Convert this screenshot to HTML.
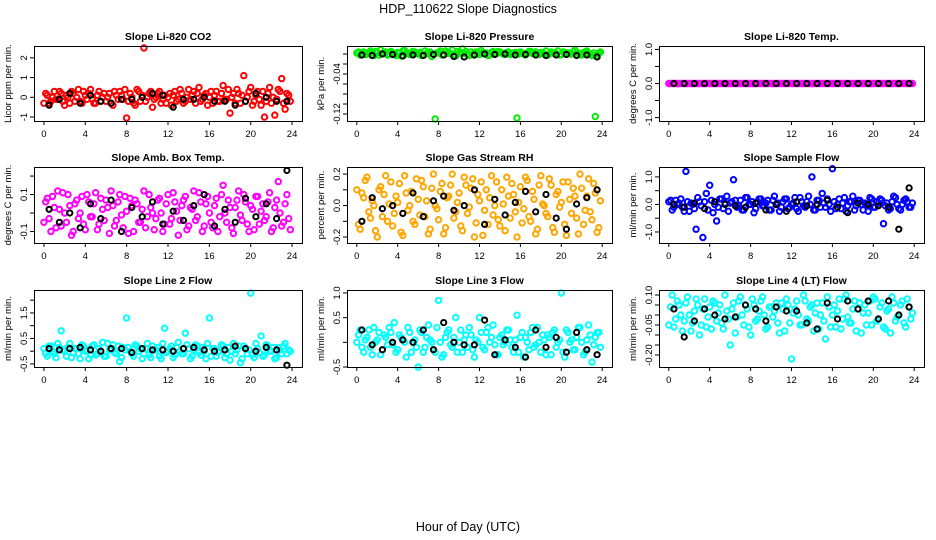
<!DOCTYPE html>
<html><head><meta charset="utf-8">
<style>
html,body{margin:0;padding:0;background:#fff;}
svg{display:block;font-family:"Liberation Sans",Arial,sans-serif;}
</style></head>
<body>
<svg id="chart" width="936" height="540" viewBox="0 0 936 540" xmlns="http://www.w3.org/2000/svg">
<rect width="936" height="540" fill="#fff"/>
<text x="468" y="13" font-size="12.5" text-anchor="middle">HDP_110622  Slope Diagnostics</text>
<text x="468" y="531" font-size="12.5" text-anchor="middle">Hour of Day (UTC)</text>
</svg>
<script>
const xTicks = [0,4,8,12,16,20,24];
const hoursColor = [0,0.33,0.67,1,1.33,1.67,2,2.33,2.67,3,3.33,3.67,4,4.33,4.67,5,5.33,5.67,6,6.33,6.67,7,7.33,7.67,8,8.33,8.67,9,9.33,9.67,10,10.33,10.67,11,11.33,11.67,12,12.33,12.67,13,13.33,13.67,14,14.33,14.67,15,15.33,15.67,16,16.33,16.67,17,17.33,17.67,18,18.33,18.67,19,19.33,19.67,20,20.33,20.67,21,21.33,21.67,22,22.33,22.67,23,23.33,23.67];
const hoursColor2 = [0.17,0.5,0.83,1.17,1.5,1.83,2.17,2.5,2.83,3.17,3.5,3.83,4.17,4.5,4.83,5.17,5.5,5.83,6.17,6.5,6.83,7.17,7.5,7.83,8.17,8.5,8.83,9.17,9.5,9.83,10.17,10.5,10.83,11.17,11.5,11.83,12.17,12.5,12.83,13.17,13.5,13.83,14.17,14.5,14.83,15.17,15.5,15.83,16.17,16.5,16.83,17.17,17.5,17.83,18.17,18.5,18.83,19.17,19.5,19.83,20.17,20.5,20.83,21.17,21.5,21.83,22.17,22.5,22.83,23.17,23.5,23.83];
const hoursBlack = [0.5,1.5,2.5,3.5,4.5,5.5,6.5,7.5,8.5,9.5,10.5,11.5,12.5,13.5,14.5,15.5,16.5,17.5,18.5,19.5,20.5,21.5,22.5,23.5];

const co2Color = [-0.3,0.1,-0.2,0.3,-0.1,0.2,-0.4,0.0,0.3,-0.2,0.4,-0.3,0.1,0.2,-0.1,-0.3,0.3,0.0,-0.2,0.2,-0.4,0.1,0.3,-0.1,-1.05,0.2,-0.3,0.4,-0.2,2.5,0.0,0.3,-0.1,0.2,-0.3,0.1,0.0,-0.4,0.3,-0.1,0.2,-0.2,0.4,0.1,-0.3,0.5,-0.1,0.2,0.0,-0.3,0.3,-0.2,0.6,-0.1,-0.8,0.2,0.4,-0.3,1.1,0.0,0.5,-0.2,0.3,-0.4,-1.0,0.2,-0.3,-0.9,0.4,0.95,-0.6,0.1];
const co2Color2 = [0.2,-0.3,0.0,-0.1,0.3,-0.2,0.1,-0.3,0.2,0.0,-0.2,0.3,-0.1,0.4,-0.3,0.1,-0.2,0.2,0.0,-0.3,0.3,-0.1,0.1,0.4,-0.2,0.0,-0.4,0.3,0.1,-0.2,0.2,-0.5,0.0,0.3,-0.1,-0.3,0.2,0.1,-0.2,0.4,-0.3,0.0,-0.1,0.3,0.2,-0.2,0.1,-0.4,0.3,0.1,-0.2,0.2,-0.1,0.4,0.0,-0.3,0.2,0.1,-0.2,0.3,-0.4,0.1,-0.1,0.3,-0.2,0.5,0.0,-0.1,0.3,-0.3,0.2,-0.2];
const co2Black = [-0.4,-0.1,0.2,-0.3,0.1,-0.2,-0.3,-0.1,-0.1,0.0,0.2,0.1,-0.5,-0.1,-0.1,0.0,-0.2,-0.2,-0.4,-0.2,0.2,0.0,-0.2,-0.2];
const presColor = [0.002,-0.002,0.004,0,0.006,-0.003,0.003,0.008,0.001,-0.002,0.005,0,0.003,-0.004,0.007,0.002,-0.001,0.004,0,-0.003,0.006,0.001,-0.005,-0.13,0.003,-0.002,0.006,0.001,0.008,-0.004,0.002,0.01,0.005,-0.003,0,0.004,-0.001,0.003,0.002,-0.002,0.005,0.001,0.004,0,0.003,-0.001,0.002,-0.128,0.004,0,0.002,0.005,0.001,-0.001,0.003,0,-0.002,0.004,0.001,0.006,-0.001,0.003,0.002,0,0.008,0.002,-0.002,0.004,0.001,-0.003,-0.125,0.002];
const presColor2 = [0.004,0.001,-0.001,0.003,0.002,0.005,-0.002,0.001,0.004,0,0.003,-0.003,0.002,0.006,0.001,-0.001,0.005,0.002,0.003,-0.002,0.001,0.004,0,0.002,0.006,-0.001,0.003,0.001,-0.002,0.005,0.003,0.001,0,0.004,-0.002,0.002,0.007,0.001,-0.003,0.003,0,0.005,0.002,-0.001,0.004,0.001,0.003,0,0.002,-0.002,0.005,0.001,0.004,-0.001,0.002,0.006,0,0.003,0.001,-0.002,0.004,0.002,0,0.005,0.001,-0.001,0.003,0.006,0,0.002,-0.001,0.004];
const presBlack = [-0.002,-0.003,0,-0.001,-0.004,-0.002,-0.003,-0.001,-0.002,-0.005,-0.006,-0.002,0,-0.001,0,-0.002,-0.001,-0.002,-0.003,-0.002,-0.001,-0.003,-0.002,-0.006];
const tempColor = [0,0,0,0,0,0,0,0,0,0,0,0,0,0,0,0,0,0,0,0,0,0,0,0,0,0,0,0,0,0,0,0,0,0,0,0,0,0,0,0,0,0,0,0,0,0,0,0,0,0,0,0,0,0,0,0,0,0,0,0,0,0,0,0,0,0,0,0,0,0,0,0];
const tempColor2 = [0,0,0,0,0,0,0,0,0,0,0,0,0,0,0,0,0,0,0,0,0,0,0,0,0,0,0,0,0,0,0,0,0,0,0,0,0,0,0,0,0,0,0,0,0,0,0,0,0,0,0,0,0,0,0,0,0,0,0,0,0,0,0,0,0,0,0,0,0,0,0,0];
const tempBlack = [0,0,0,0,0,0,0,0,0,0,0,0,0,0,0,0,0,0,0,0,0,0,0,0];
const boxColor = [-0.05,0.08,-0.1,0.03,0.12,-0.07,0.0,0.1,-0.12,0.05,-0.03,0.09,-0.09,0.06,-0.02,0.11,-0.06,0.02,0.07,-0.11,0.04,-0.04,0.1,-0.08,0.01,0.08,-0.1,0.05,-0.05,0.12,-0.02,0.03,-0.09,0.07,0.0,-0.06,0.1,-0.03,0.06,-0.12,0.04,0.09,-0.07,0.02,-0.04,0.11,-0.1,0.05,0.0,-0.08,0.08,-0.02,0.15,-0.05,0.03,-0.11,0.07,-0.01,0.1,-0.06,0.04,-0.09,0.09,0.01,-0.04,0.06,-0.1,0.03,0.17,-0.07,0.05,-0.03];
const boxColor2 = [0.06,-0.03,0.09,-0.08,0.02,0.11,-0.05,0.04,-0.1,0.07,0.0,-0.06,0.1,-0.02,0.05,-0.09,0.08,-0.04,0.03,0.12,-0.07,0.06,-0.01,0.09,-0.11,0.04,0.07,-0.05,0.02,-0.08,0.1,0.0,-0.03,0.08,-0.1,0.05,-0.06,0.11,0.01,-0.04,0.07,-0.09,0.03,0.12,-0.02,0.06,-0.07,0.09,-0.05,0.04,-0.1,0.1,0.0,0.07,-0.08,0.03,0.12,-0.04,0.06,-0.1,0.02,0.09,-0.06,0.05,-0.02,0.11,-0.08,0.07,0.0,-0.05,0.1,-0.09];
const boxBlack = [0.02,-0.05,0.0,-0.08,0.05,-0.03,0.07,-0.1,0.03,-0.02,0.06,-0.06,0.01,-0.04,0.04,0.1,-0.07,0.02,-0.05,0.08,-0.02,0.05,-0.03,0.23];
const rhColor = [0.1,-0.15,0.05,0.18,-0.08,0.0,-0.2,0.12,0.07,-0.1,0.15,-0.05,0.02,-0.17,0.19,-0.03,0.09,-0.12,0.04,0.16,-0.07,-0.18,0.11,0.0,-0.09,0.14,-0.14,0.06,0.2,-0.04,0.08,-0.16,0.13,-0.01,0.17,-0.11,0.03,-0.19,0.1,0.05,-0.06,0.15,-0.13,0.01,0.18,-0.08,0.07,-0.2,0.12,-0.02,0.16,-0.1,0.04,-0.15,0.19,0.0,-0.07,0.13,-0.17,0.09,0.02,-0.12,0.15,-0.05,0.06,-0.18,0.11,-0.03,0.17,-0.09,0.08,-0.14];
const rhColor2 = [-0.12,0.08,0.16,-0.04,0.03,-0.16,0.1,-0.07,0.19,0.01,-0.13,0.06,0.14,-0.19,0.08,0.0,-0.1,0.17,-0.06,0.12,0.03,-0.15,0.2,-0.02,0.09,-0.18,0.05,0.13,-0.08,0.02,-0.13,0.18,-0.05,0.11,-0.2,0.07,0.15,-0.03,-0.12,0.19,0.0,-0.09,0.1,-0.16,0.06,0.14,-0.04,0.02,-0.11,0.18,-0.07,0.09,-0.18,0.13,0.01,-0.05,0.17,-0.14,0.07,-0.01,0.15,-0.19,0.04,0.11,-0.08,0.2,-0.12,0.06,-0.04,0.14,-0.17,0.03];
const rhBlack = [-0.1,0.05,-0.02,0.0,-0.05,0.08,-0.07,0.03,0.06,-0.03,0.0,0.1,-0.12,0.04,-0.06,0.02,0.09,-0.04,0.07,-0.08,-0.15,0.01,0.05,0.1];
const flowColor = [0.1,-0.2,0.15,0.05,-0.1,1.2,-0.25,0.0,-0.9,0.1,-1.2,0.4,0.7,-0.3,-0.6,0.2,-0.15,0.3,0.05,0.9,-0.1,0.15,-0.2,0.25,0.0,-0.3,0.1,0.2,-0.05,0.15,-0.2,0.3,0.05,-0.1,0.2,-0.15,0.0,0.25,-0.25,0.1,-0.1,0.3,1.0,-0.2,0.15,0.4,-0.1,0.0,1.3,-0.15,0.2,0.05,-0.25,0.1,0.3,-0.05,0.15,-0.2,0.0,0.25,-0.1,0.1,0.2,-0.7,0.05,-0.15,0.3,0.0,-0.2,0.15,0.1,-0.1];
const flowColor2 = [0.15,-0.1,0.0,0.2,-0.25,0.1,0.05,-0.15,0.25,-0.05,0.1,-0.2,0.15,0.0,-0.1,0.2,0.05,-0.25,0.1,0.15,-0.05,-0.2,0.25,0.0,0.1,-0.15,0.2,-0.05,0.05,-0.2,0.15,0.0,-0.25,0.1,0.2,-0.1,0.05,-0.15,0.25,-0.05,0.1,0.0,-0.2,0.15,-0.1,0.05,0.2,-0.25,0.1,0.0,-0.15,0.25,-0.05,0.1,-0.2,0.15,0.0,0.05,-0.25,0.2,-0.1,0.05,0.15,-0.05,-0.2,0.1,0.25,-0.15,0.0,0.2,-0.1,0.05];
const flowBlack = [0.0,-0.1,0.05,-0.15,0.1,0.0,-0.05,-0.1,0.05,-0.2,0.0,-0.25,0.1,-0.05,0.0,0.15,-0.1,-0.3,0.05,0.0,-0.05,-0.1,-0.9,0.6];
const line2Color = [0.1,-0.2,0.2,-0.1,0.3,0.8,0.0,0.15,-0.25,0.1,-0.1,0.25,0.0,-0.3,0.2,-0.15,0.1,0.35,-0.2,0.05,0.25,-0.1,-0.4,0.15,1.3,0.0,-0.2,0.2,0.1,-0.1,0.3,-0.25,0.05,0.15,-0.3,0.9,0.0,0.2,-0.15,0.35,-0.1,0.7,0.1,-0.2,0.25,-0.05,0.15,-0.3,1.3,0.1,-0.2,0.0,0.2,-0.1,-0.35,0.3,0.05,-0.45,0.2,-0.1,2.28,-0.25,0.1,0.6,-0.15,0.2,0.0,-0.3,0.15,-0.1,0.3,0.05];
const line2Color2 = [-0.1,0.2,0.0,-0.25,0.15,0.05,-0.2,0.3,-0.05,0.1,-0.3,0.2,0.05,-0.15,0.25,-0.1,0.0,-0.2,0.3,0.1,-0.05,0.2,-0.25,0.05,0.15,-0.1,0.25,0.0,-0.3,0.1,-0.15,0.2,0.05,-0.2,0.3,-0.05,0.1,-0.25,0.15,0.0,-0.1,0.25,-0.3,0.05,0.2,-0.15,0.0,0.3,-0.2,0.1,-0.05,0.25,-0.25,0.15,0.0,-0.1,0.2,-0.3,0.1,0.05,-0.15,0.3,-0.05,-0.2,0.25,0.0,0.15,-0.25,0.05,0.2,-0.1,0.0];
const line2Black = [0.1,0.05,0.1,0.15,0.05,0.0,0.1,0.1,-0.05,0.1,0.05,0.05,0.0,0.1,0.15,0.05,0.0,0.05,0.2,0.1,0.0,0.15,0.05,-0.55];
const line3Color = [0.0,0.25,-0.2,0.1,-0.1,0.3,0.05,-0.25,0.15,-0.05,0.2,0.4,-0.15,0.1,0.0,0.3,-0.2,0.05,-0.5,0.2,-0.1,0.35,0.0,-0.2,0.85,-0.3,0.1,0.25,-0.1,0.5,0.0,-0.2,0.15,0.3,-0.15,0.05,0.5,-0.1,0.2,0.0,0.35,-0.25,0.1,-0.05,0.25,0.05,-0.2,0.55,0.1,-0.3,0.0,0.2,-0.1,0.3,-0.2,0.05,0.15,-0.25,0.25,0.0,1.0,-0.3,0.2,0.05,-0.15,0.3,0.0,-0.2,0.35,-0.4,0.1,0.2];
const line3Color2 = [0.15,-0.1,0.05,0.25,-0.25,0.0,0.2,-0.15,0.1,0.3,-0.05,-0.2,0.15,0.05,-0.3,0.2,0.0,-0.1,0.25,-0.2,0.1,0.05,-0.15,0.3,0.0,-0.25,0.2,-0.05,0.1,-0.2,0.25,0.05,-0.1,0.15,-0.3,0.0,0.2,-0.15,0.3,0.1,-0.05,-0.25,0.15,0.0,0.25,-0.1,0.05,-0.2,0.2,0.1,-0.15,0.3,-0.05,0.0,0.15,-0.25,0.1,0.2,-0.1,0.05,-0.2,0.25,0.0,-0.15,0.1,0.3,-0.25,0.05,0.15,-0.05,0.2,-0.1];
const line3Black = [0.25,-0.05,-0.15,0.0,0.05,0.0,0.25,-0.15,0.4,0.0,-0.05,-0.05,0.45,-0.25,0.05,-0.1,-0.3,0.25,-0.1,0.1,-0.2,0.2,-0.15,-0.25];
const line4Color = [-0.05,0.1,-0.02,0.05,-0.08,0.06,0.0,-0.04,0.08,-0.1,0.03,-0.06,0.04,0.07,-0.03,0.05,-0.07,0.02,-0.15,0.06,-0.01,0.09,-0.05,0.03,-0.1,0.05,-0.02,0.07,0.0,-0.06,0.04,0.02,-0.04,0.06,-0.08,0.05,-0.22,0.03,0.0,-0.05,0.07,-0.03,0.05,0.01,-0.07,0.06,-0.12,0.04,0.0,-0.06,0.08,-0.02,0.1,-0.04,0.03,-0.08,0.06,0.01,-0.05,0.07,0.09,-0.03,0.04,-0.06,0.02,-0.09,0.06,-0.01,0.05,-0.04,0.08,-0.02];
const line4Color2 = [0.04,-0.06,0.07,0.0,-0.03,0.09,-0.08,0.02,0.05,-0.05,0.08,-0.01,-0.07,0.06,0.01,-0.04,0.1,-0.02,0.03,-0.09,0.07,0.0,0.05,-0.06,0.08,-0.03,0.02,0.09,-0.07,0.04,-0.01,0.06,-0.09,0.03,0.08,-0.04,0.01,0.07,-0.05,0.1,-0.02,0.04,-0.08,0.06,0.0,-0.03,0.09,-0.06,0.05,0.02,-0.07,0.08,-0.01,-0.04,0.07,0.03,-0.09,0.05,0.01,-0.05,0.08,-0.02,0.06,-0.07,0.03,0.09,-0.03,0.0,0.07,-0.06,0.04,0.01];
const line4Black = [0.03,-0.11,-0.03,0.03,0.0,-0.02,-0.01,0.05,0.03,-0.03,0.04,0.02,0.02,-0.04,-0.07,0.06,-0.02,0.07,0.03,0.07,-0.02,0.07,0.0,0.04];

const panelTitles = ["Slope Li-820 CO2","Slope Li-820 Pressure","Slope Li-820 Temp.","Slope Amb. Box Temp.","Slope Gas Stream RH","Slope Sample Flow","Slope Line 2 Flow","Slope Line 3 Flow","Slope Line 4 (LT) Flow"];
const yTitles = ["Licor ppm per min.","kPa per min.","degrees C per min.","degrees C per min.","percent per min.","ml/min per min.","ml/min per min.","ml/min per min.","ml/min per min."];
const yTickVals = [[-1,0,1,2],[0,-0.02,-0.04,-0.06,-0.08,-0.1,-0.12],[-1,-0.5,0,0.5,1],[-0.1,0,0.1,0.2],[-0.2,-0.1,0,0.1,0.2],[-1,-0.5,0,0.5,1],[-0.5,0,0.5,1,1.5,2],[-0.5,0,0.5,1],[-0.2,-0.15,-0.1,-0.05,0,0.05,0.1]];
const yTickLabels = [["-1","0","1","2"],["","","-0.04","","","","-0.12"],["-1.0","","0.0","","1.0"],["-0.1","","0.1",""],["-0.2","","0.0","","0.2"],["-1.0","","0.0","","1.0"],["-0.5","","0.5","","1.5",""],["-0.5","","0.5","1.0"],["-0.20","","","-0.05","","","0.10"]];
const yDomains = [[-1.2,2.6],[-0.134,0.016],[-1.1,1.1],[-0.162,0.249],[-0.238,0.245],[-1.4,1.36],[-0.62,2.4],[-0.5,1.06],[-0.26,0.125]];
const colorSeries = [co2Color,presColor,tempColor,boxColor,rhColor,flowColor,line2Color,line3Color,line4Color];
const colorSeries2 = [co2Color2,presColor2,tempColor2,boxColor2,rhColor2,flowColor2,line2Color2,line3Color2,line4Color2];
const blackSeries = [co2Black,presBlack,tempBlack,boxBlack,rhBlack,flowBlack,line2Black,line3Black,line4Black];
const seriesColors = ["#ff0000","#00ee00","#ff00ff","#ff00ff","#ffa500","#0000ff","#00ffff","#00ffff","#00ffff"];

const NS = "http://www.w3.org/2000/svg";
const svg = document.getElementById("chart");
const colBox = [[34,302],[347,612],[659,924]];
const rowBox = [[46,121],[167,243],[290,367]];
function mk(tag, attrs, parent){const e=document.createElementNS(NS,tag);for(const k in attrs)e.setAttribute(k,attrs[k]);parent.appendChild(e);return e;}

for(let p=0;p<9;p++){
  const [L,R]=colBox[p%3], [T,B]=rowBox[Math.floor(p/3)];
  const xScale = h => L + (h+0.96)/25.92*(R-L);
  const [y0,y1]=yDomains[p];
  const yScale = v => B - (v-y0)/(y1-y0)*(B-T);
  const g = mk("g",{},svg);
  
  
  const t = mk("text",{x:(L+R)/2,y:T-6,"font-size":"10.5","font-weight":"bold","text-anchor":"middle"},g);
  t.textContent = panelTitles[p];
  
  
  const yt = mk("text",{x:0,y:0,"font-size":"9.5","text-anchor":"middle",transform:`translate(${L-23},${(T+B)/2}) rotate(-90)`},g);
  yt.textContent = yTitles[p];
  
  
  const pg = mk("g",{fill:"none","stroke-width":"2"},g);
  
  
  colorSeries[p].forEach((v,i)=>{
    const c = mk("circle",{cx:xScale(hoursColor[i]).toFixed(1),cy:yScale(v).toFixed(1),r:2.7,stroke:seriesColors[p]},pg);
    
    
  });
  colorSeries2[p].forEach((v,i)=>{
    const c = mk("circle",{cx:xScale(hoursColor2[i]).toFixed(1),cy:yScale(v).toFixed(1),r:2.7,stroke:seriesColors[p]},pg);
    
    
  });
  blackSeries[p].forEach((v,i)=>{
    const c = mk("circle",{cx:xScale(hoursBlack[i]).toFixed(1),cy:yScale(v).toFixed(1),r:2.6,stroke:"#000"},pg);
    
    
  });
  const bx = mk("rect",{x:L+0.5,y:T+0.5,width:R-L,height:B-T,fill:"none",stroke:"#000","stroke-width":"1"},g);
  
  
  xTicks.forEach(h=>{
    const x=xScale(h);
    mk("line",{x1:x,x2:x,y1:B,y2:B+4,stroke:"#000"},g);
    const lt = mk("text",{x:x,y:B+16,"font-size":"9.5","text-anchor":"middle"},g);
    lt.textContent = h;
    
    
  });
  yTickVals[p].forEach((v,i)=>{
    const y=yScale(v);
    mk("line",{x1:L-4,x2:L,y1:y,y2:y,stroke:"#000"},g);
    const s=yTickLabels[p][i];
    if(s){
      const lt = mk("text",{x:0,y:0,"font-size":"9.5","text-anchor":"middle",transform:`translate(${L-7},${y}) rotate(-90)`},g);
      lt.textContent = s;
      
      
    }
  });
}
</script>
</body></html>
